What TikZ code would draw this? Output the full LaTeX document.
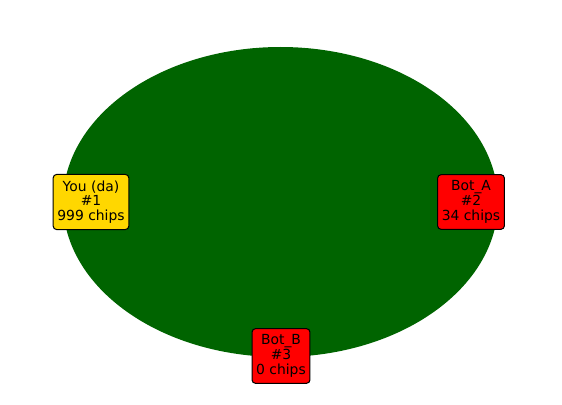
\documentclass[tikz,border=0pt]{standalone}
\usepackage{fontspec}
\setmainfont{DejaVu Sans}
\definecolor{felt}{RGB}{0,100,0}
\definecolor{gold}{RGB}{255,215,0}
\definecolor{botred}{RGB}{255,0,0}
\tikzset{
  seat/.style={draw=black, line width=0.75pt, rounded corners=2.5pt, align=center,
    inner xsep=3pt, inner ysep=4.4pt, font=\fontsize{10}{10.6}\selectfont, text=black},
}
\begin{document}
\begin{tikzpicture}[x=0.72pt, y=-0.72pt]
\useasboundingbox (0,0) rectangle (562,405);
\fill[felt] (280.5,202) ellipse [x radius=217.5, y radius=155];
\node[seat, fill=gold] (you) at (91,202) {You (da)\\\#1\\999 chips};
\node[seat, fill=botred] (bota) at (471,202) {Bot\_A\\\#2\\34 chips};
\node[seat, fill=botred] (botb) at (281,356) {Bot\_B\\\#3\\0 chips};
\end{tikzpicture}
\end{document}
